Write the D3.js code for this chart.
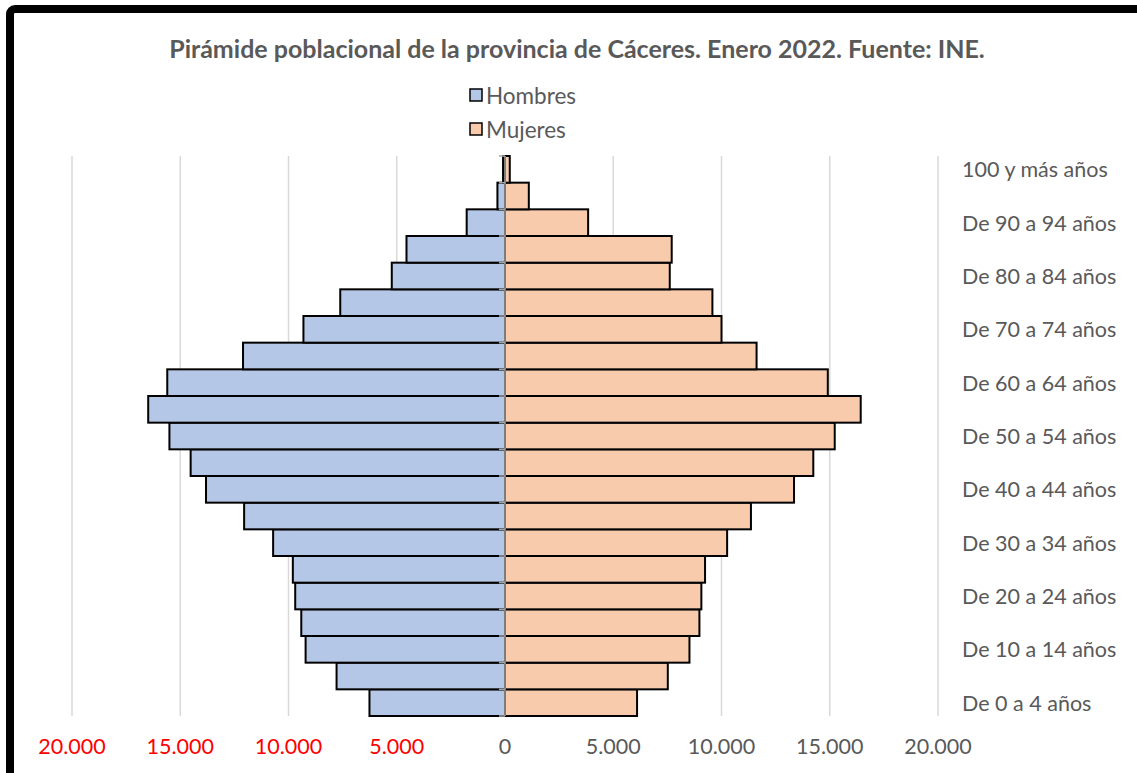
<!DOCTYPE html>
<html>
<head>
<meta charset="utf-8">
<script src="https://cdn.jsdelivr.net/npm/d3@7/dist/d3.min.js"></script>
<style>
  html, body { margin: 0; padding: 0; background: #fff; }
  svg { display: block; }
  text { font-family: Lato, "Open Sans", sans-serif; }
</style>
</head>
<body>
<svg id="chart" width="1137" height="773"></svg>
<script>
// ---- Data ----
const categories = [
  "De 0 a 4 años", "De 5 a 9 años", "De 10 a 14 años", "De 15 a 19 años",
  "De 20 a 24 años", "De 25 a 29 años", "De 30 a 34 años", "De 35 a 39 años",
  "De 40 a 44 años", "De 45 a 49 años", "De 50 a 54 años", "De 55 a 59 años",
  "De 60 a 64 años", "De 65 a 69 años", "De 70 a 74 años", "De 75 a 79 años",
  "De 80 a 84 años", "De 85 a 89 años", "De 90 a 94 años", "De 95 a 99 años",
  "100 y más años"
];
const hombres = [6260, 7780, 9210, 9410, 9690, 9800, 10710, 12050, 13810, 14520,
                 15500, 16480, 15600, 12100, 9310, 7610, 5230, 4550, 1770, 350, 90];
const mujeres = [6100, 7520, 8520, 8980, 9070, 9240, 10260, 11360, 13350, 14240,
                 15230, 16430, 14910, 11620, 10000, 9580, 7610, 7700, 3840, 1100, 220];
const xTicks = [-20000, -15000, -10000, -5000, 0, 5000, 10000, 15000, 20000];
const seriesNames = ["Hombres", "Mujeres"];
const title = "Pirámide poblacional de la provincia de Cáceres. Enero 2022. Fuente: INE.";

// ---- Layout ----
const svg = d3.select("#chart");
const colors = { Hombres: "#b4c7e7", Mujeres: "#f8cbad" };
const textGray = "#595959";

const x = d3.scaleLinear().domain([-20000, 20000]).range([72, 938]);
const y = d3.scaleBand().domain(categories).range([716, 156]).padding(0);

const loc = d3.formatLocale({ decimal: ",", thousands: ".", grouping: [3], currency: ["", "€"] });
const fmt = loc.format(",.0f");

// frame
svg.append("rect")
  .attr("x", 10).attr("y", 9)
  .attr("width", 1160).attr("height", 800)
  .attr("rx", 5)
  .attr("fill", "#fff")
  .attr("stroke", "#000")
  .attr("stroke-width", 8);

// title
svg.append("text")
  .attr("x", 577).attr("y", 48)
  .attr("text-anchor", "middle")
  .attr("dominant-baseline", "central")
  .attr("font-weight", "bold")
  .attr("font-size", 25)
  .attr("fill", textGray)
  .text(title);

// legend
const legend = svg.append("g");
seriesNames.forEach((name, i) => {
  const cy = 95 + i * 34;
  legend.append("rect")
    .attr("x", 470).attr("y", cy - 6)
    .attr("width", 12).attr("height", 12)
    .attr("fill", colors[name])
    .attr("stroke", "#000").attr("stroke-width", 1.5);
  legend.append("text")
    .attr("x", 486).attr("y", cy)
    .attr("dominant-baseline", "central")
    .attr("font-size", 22.5)
    .attr("fill", textGray)
    .text(name);
});

// gridlines
svg.append("g")
  .selectAll("line")
  .data(xTicks.filter(d => d !== 0))
  .join("line")
  .attr("x1", d => x(d)).attr("x2", d => x(d))
  .attr("y1", y.range()[1]).attr("y2", y.range()[0])
  .attr("stroke", "#d9d9d9").attr("stroke-width", 1.5);

// bars
const rows = categories.map((c, i) => ({ c, h: hombres[i], m: mujeres[i] }));
svg.append("g")
  .selectAll("rect")
  .data(rows)
  .join("rect")
  .attr("x", d => x(-d.h))
  .attr("y", d => y(d.c))
  .attr("width", d => x(0) - x(-d.h))
  .attr("height", y.bandwidth())
  .attr("fill", colors.Hombres)
  .attr("stroke", "#000").attr("stroke-width", 2);

svg.append("g")
  .selectAll("rect")
  .data(rows)
  .join("rect")
  .attr("x", x(0))
  .attr("y", d => y(d.c))
  .attr("width", d => x(d.m) - x(0))
  .attr("height", y.bandwidth())
  .attr("fill", colors.Mujeres)
  .attr("stroke", "#000").attr("stroke-width", 2);

// vertical category axis at zero
const axisG = svg.append("g");
axisG.append("line")
  .attr("x1", x(0)).attr("x2", x(0))
  .attr("y1", y.range()[1]).attr("y2", y.range()[0])
  .attr("stroke", "#a6a6a6").attr("stroke-width", 1.5);
const boundaries = categories.map(c => y(c) + y.bandwidth()).concat([y.range()[1]]);
axisG.selectAll("line.tk")
  .data(boundaries)
  .join("line")
  .attr("class", "tk")
  .attr("x1", x(0) - 6).attr("x2", x(0))
  .attr("y1", d => d).attr("y2", d => d)
  .attr("stroke", "#a6a6a6").attr("stroke-width", 1.5);

// category labels (every other)
svg.append("g")
  .selectAll("text")
  .data(categories.filter((c, i) => i % 2 === 0))
  .join("text")
  .attr("x", 962)
  .attr("y", d => y(d) + y.bandwidth() / 2)
  .attr("dominant-baseline", "central")
  .attr("font-size", 21.5)
  .attr("fill", textGray)
  .text(d => d);

// x tick labels
svg.append("g")
  .selectAll("text")
  .data(xTicks)
  .join("text")
  .attr("x", d => x(d))
  .attr("y", 746)
  .attr("text-anchor", "middle")
  .attr("dominant-baseline", "central")
  .attr("font-size", 21.5)
  .attr("fill", d => d < 0 ? "#ff0000" : textGray)
  .text(d => fmt(Math.abs(d)));
</script>
</body>
</html>
